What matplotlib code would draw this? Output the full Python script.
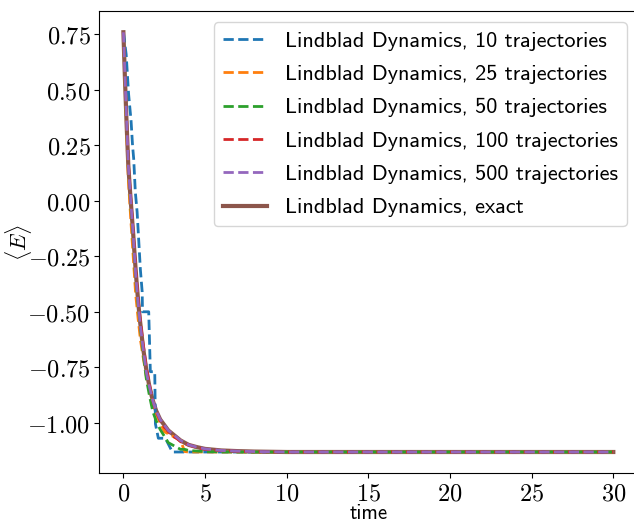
import matplotlib
matplotlib.use("Agg")
import matplotlib.pyplot as plt
from matplotlib.ticker import FuncFormatter

plt.rcParams['mathtext.fontset'] = 'cm'
plt.rcParams['axes.unicode_minus'] = True

# exact Lindblad solution
t_exact = [0, 0.1, 0.2, 0.3, 0.4, 0.5, 0.6, 0.7, 0.8, 0.9, 1.0, 1.2, 1.4, 1.6, 1.8,
           2.0, 2.25, 2.5, 2.75, 3.0, 3.5, 4.0, 4.5, 5.0, 6.0, 7.0, 8.0, 10, 15, 20, 25, 30]
E_exact = [0.76, 0.54, 0.34, 0.16, 0.05, -0.05, -0.15, -0.26, -0.36, -0.45, -0.53, -0.66,
           -0.76, -0.84, -0.90, -0.945, -0.985, -1.01, -1.035, -1.05, -1.08, -1.10, -1.11,
           -1.118, -1.125, -1.128, -1.13, -1.132, -1.132, -1.132, -1.132, -1.132]

# 10 trajectories (coarse, step-like)
t_10 = [0, 0.17, 0.32, 0.47, 0.56, 0.63, 0.73, 0.84, 0.94, 1.04, 1.15, 1.17, 1.55, 1.65,
        1.92, 1.96, 2.14, 2.57, 3.0, 30]
E_10 = [0.76, 0.66, 0.48, 0.36, 0.25, 0.19, 0.04, -0.05, -0.18, -0.31, -0.41, -0.50, -0.50,
        -0.77, -0.77, -1.005, -1.07, -1.07, -1.132, -1.132]

# common time grid for the other trajectory averages
t_traj = [0, 0.15, 0.3, 0.45, 0.6, 0.75, 0.9, 1.05, 1.2, 1.4, 1.6, 1.8, 2.0, 2.25, 2.5,
          2.75, 3.0, 3.25, 3.5, 3.75, 4.0, 4.5, 5.0, 6.0, 7.0, 8.0, 10.0, 15.0, 20.0, 25.0, 30.0]
E_25 = [0.76, 0.42, 0.10, -0.08, -0.25, -0.42, -0.53, -0.63, -0.70, -0.79, -0.86, -0.92,
        -0.96, -1.00, -1.04, -1.05, -1.06, -1.07, -1.08, -1.13, -1.132, -1.132, -1.132,
        -1.132, -1.132, -1.132, -1.132, -1.132, -1.132, -1.132, -1.132]
E_50 = [0.76, 0.44, 0.15, -0.02, -0.18, -0.35, -0.47, -0.58, -0.68, -0.80, -0.88, -0.95,
        -0.99, -1.03, -1.06, -1.09, -1.10, -1.11, -1.12, -1.12, -1.125, -1.128, -1.13,
        -1.132, -1.132, -1.132, -1.132, -1.132, -1.132, -1.132, -1.132]
E_100 = [0.76, 0.46, 0.17, 0.01, -0.14, -0.31, -0.44, -0.55, -0.64, -0.75, -0.83, -0.90,
         -0.95, -0.99, -1.02, -1.04, -1.06, -1.07, -1.085, -1.095, -1.10, -1.112, -1.12,
         -1.126, -1.129, -1.131, -1.132, -1.132, -1.132, -1.132, -1.132]
E_500 = [0.76, 0.45, 0.16, 0.0, -0.155, -0.33, -0.46, -0.57, -0.66, -0.77, -0.84, -0.90,
         -0.945, -0.985, -1.01, -1.035, -1.05, -1.065, -1.08, -1.09, -1.10, -1.11, -1.118,
         -1.125, -1.128, -1.13, -1.132, -1.132, -1.132, -1.132, -1.132]

fig = plt.figure(figsize=(6.34, 5.2), dpi=100)
ax = fig.add_axes([0.156, 0.0904, 0.850, 0.888])

ax.plot(t_10, E_10, '--', lw=2, label='Lindblad Dynamics, 10 trajectories')
ax.plot(t_traj, E_25, '--', lw=2, label='Lindblad Dynamics, 25 trajectories')
ax.plot(t_traj, E_50, '--', lw=2, label='Lindblad Dynamics, 50 trajectories')
ax.plot(t_traj, E_100, '--', lw=2, label='Lindblad Dynamics, 100 trajectories')
ax.plot(t_traj, E_500, '--', lw=2, label='Lindblad Dynamics, 500 trajectories')
ax.plot(t_exact, E_exact, '-', lw=3, zorder=1.5, label='Lindblad Dynamics, exact')

ax.xaxis.set_major_formatter(FuncFormatter(lambda v, p: r'$%d$' % v))
ax.yaxis.set_major_formatter(FuncFormatter(lambda v, p: r'$%.2f$' % v))
ax.tick_params(labelsize=17.5, pad=2.5)

ax.set_xlabel('time', family='cmss10', fontsize=15)
ax.xaxis.set_label_coords(0.5, -0.067)
ax.set_ylabel(r'$\langle E\rangle$', fontsize=16)
ax.yaxis.set_label_coords(-0.12, 0.5)

ax.legend(loc='upper right', prop={'family': 'cmss10', 'size': 16}, labelspacing=0.62)

fig.savefig('out.png', dpi=100)
